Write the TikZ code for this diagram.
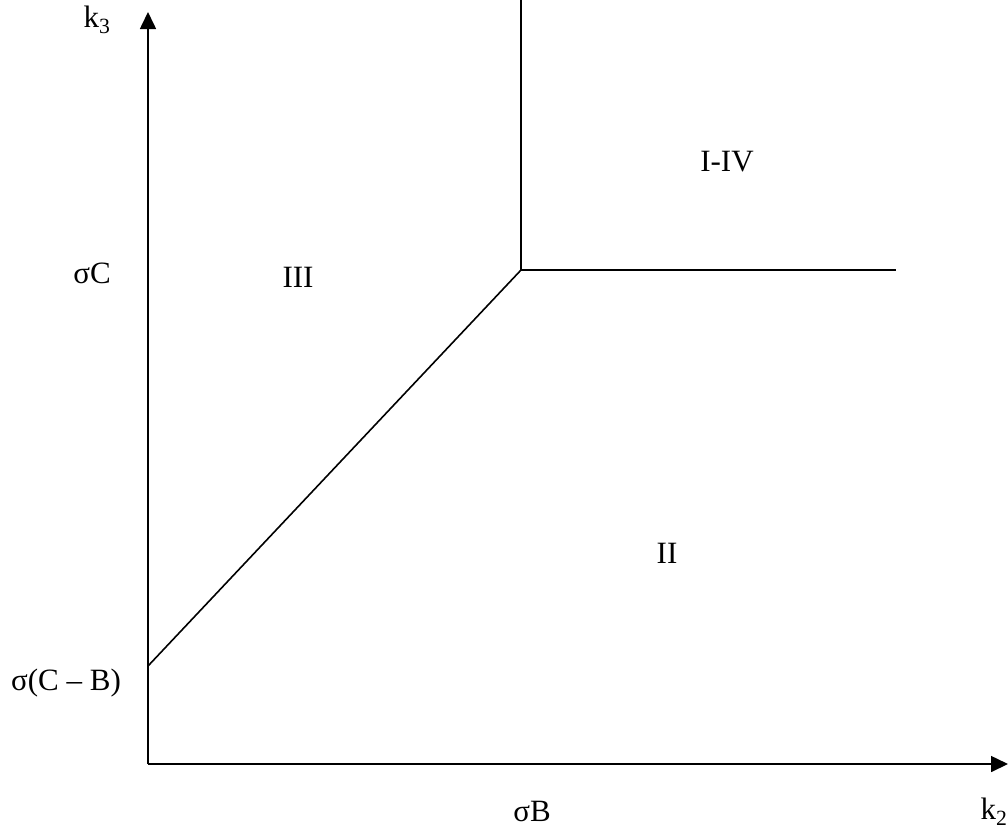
\documentclass[tikz,border=0pt]{standalone}
\usepackage{fontspec}
\setmainfont{Liberation Serif}
\usetikzlibrary{arrows.meta}

\begin{document}
\begin{tikzpicture}[x=1pt, y=-1pt, font=\fontsize{31}{36}\selectfont,
  axis/.style={line width=1.6pt, -{Triangle[width=16pt,length=17pt]}},
  border/.style={line width=1.6pt}]
  \useasboundingbox (0,0) rectangle (1008,831);
  % corner points of the regions
  \coordinate (O) at (148,764); \coordinate (ytop) at (148,12); \coordinate (xend) at (1008,764);
  \coordinate (kink) at (521,270); \coordinate (top) at (521,0);
  \coordinate (hend) at (896,270); \coordinate (start) at (148,666);
  \draw[axis] (O) -- (ytop); \draw[axis] (O) -- (xend);
  \draw[border] (start) -- (kink) -- (top); \draw[border] (kink) -- (hend);
  % labels
  \node (k3) at (97,20) {k\textsubscript{3}};
  \node (k2) at (994,812) {k\textsubscript{2}};
  \node (sC) at (92,273) {σC};
  \node (sCB) at (66,683) {σ(C – B)};
  \node (sB) at (532,811) {σB};
  \node (r3) at (298,277) {III};
  \node (r14) at (727,162) {I-IV};
  \node (r2) at (667,553) {II};
\end{tikzpicture}
\end{document}
